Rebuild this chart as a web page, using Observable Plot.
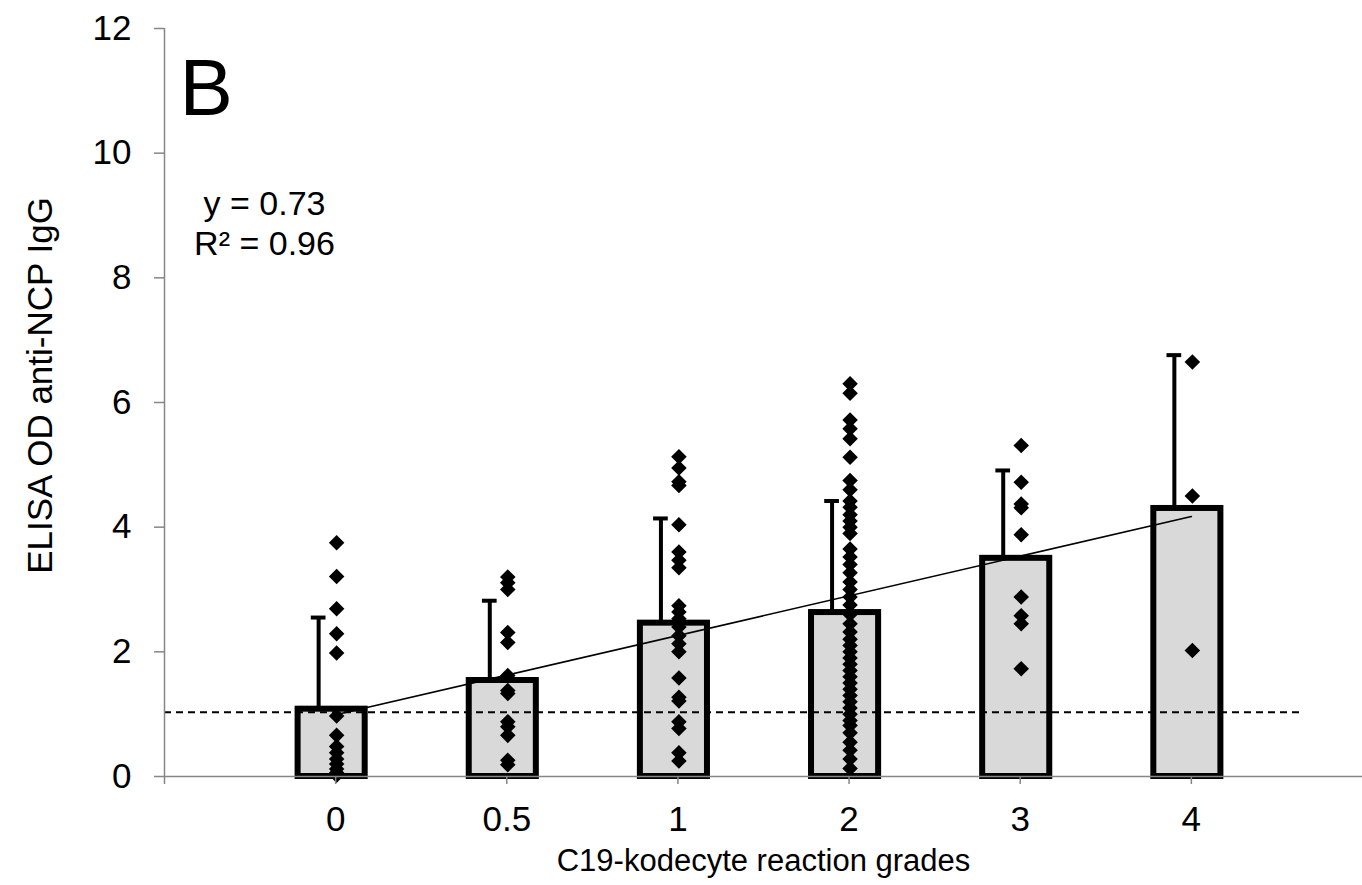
<!DOCTYPE html>
<html><head><meta charset="utf-8">
<script src="https://cdn.jsdelivr.net/npm/d3@7"></script>
<script src="https://cdn.jsdelivr.net/npm/@observablehq/plot@0.6"></script>
<style>body{margin:0;background:#fff;} svg{font-family:"Liberation Sans",Arial,sans-serif;}</style>
</head><body><div id="chart"></div>
<script>
// Categories (C19-kodecyte reaction grades)
const grades = ["0", "0.5", "1", "2", "3", "4"];
// Bar heights (mean ELISA OD) and upper error bar ends
const barMeans = [1.08, 1.54, 2.46, 2.63, 3.5, 4.3];
const errUpper = [2.55, 2.82, 4.14, 4.42, 4.91, 6.76];
// Individual samples per grade
const dots0 = [3.75, 3.21, 2.69, 2.29, 1.98, 0.97, 0.66, 0.48, 0.38, 0.28, 0.2, 0.12, 0.06, 0.02];
const dots05 = [3.2, 3.11, 3.0, 2.31, 2.15, 1.62, 1.38, 1.33, 0.88, 0.8, 0.66, 0.26, 0.19];
const dots1 = [5.13, 4.95, 4.73, 4.67, 4.04, 3.6, 3.47, 3.35, 2.74, 2.64, 2.53, 2.4, 2.26, 2.13, 2.0, 1.58, 1.27, 1.21, 0.88, 0.77, 0.38, 0.25];
const dots2 = [6.3, 6.15, 5.72, 5.58, 5.42, 5.12, 4.75, 4.6, 4.42, 4.32, 4.2, 4.1, 4.0, 3.9, 3.65, 3.52, 3.4, 3.27, 3.12, 3.0, 2.88, 2.75, 2.6, 2.45, 2.32, 2.2, 2.1, 2.0, 1.9, 1.8, 1.7, 1.6, 1.5, 1.4, 1.3, 1.2, 1.1, 1.0, 0.9, 0.82, 0.7, 0.55, 0.42, 0.28, 0.13];
const dots3 = [5.31, 4.72, 4.37, 4.31, 3.88, 2.88, 2.58, 2.45, 1.73];
const dots4 = [6.65, 4.5, 2.02];
// Linear trend line end points
const trendGrades = ["0", "4"];
const trendValues = [0.99, 4.17];
// Cut-off (dashed) line
const cutoffValue = 1.03;
const cutoffExtent = [0, 6.66];
// Axis ticks
const yTicks = [0, 2, 4, 6, 8, 10, 12];
const xTicks = [0, 1, 2, 3, 4, 5, 6];
// Texts
const panelLabel = "B";
const equationText = "y = 0.73\nR² = 0.96";
const xTitle = "C19-kodecyte reaction grades";
const yTitle = "ELISA OD anti-NCP IgG";

const dotSets = [dots0, dots05, dots1, dots2, dots3, dots4];
const bars = grades.map((g, i) => ({pos: i + 1, grade: g, mean: barMeans[i], upper: errUpper[i]}));
const points = dotSets.flatMap((vals, i) => vals.map(v => ({pos: i + 1, value: v})));
const trend = trendGrades.map((g, i) => ({pos: grades.indexOf(g) + 1, value: trendValues[i]}));

const halfBar = 0.196, halfCap = 0.043;
const axisGray = "#868686";

const chart = Plot.plot({
  width: 1362, height: 885,
  marginLeft: 164, marginRight: 0, marginTop: 28, marginBottom: 109,
  style: {fontFamily: "'Liberation Sans', Arial, sans-serif", fontSize: "30px", background: "white", color: "black", overflow: "visible"},
  x: {domain: [0, 7], axis: null},
  y: {domain: [0, 12], axis: null},
  marks: [
    Plot.rectY(bars, {x1: d => d.pos - halfBar, x2: d => d.pos + halfBar, y1: d => 0, y2: "mean", fill: "#d9d9d9", stroke: "black", strokeWidth: 6, dx: -4}),
    Plot.ruleX(bars, {x: "pos", y1: "mean", y2: "upper", stroke: "black", strokeWidth: 4, dx: -17}),
    Plot.ruleY(bars, {y: "upper", x1: d => d.pos - halfCap, x2: d => d.pos + halfCap, stroke: "black", strokeWidth: 4, dx: -17}),
    Plot.ruleY([cutoffValue], {x1: cutoffExtent[0], x2: cutoffExtent[1], stroke: "black", strokeWidth: 2, strokeDasharray: "7,5"}),
    Plot.line(trend, {x: "pos", y: "value", stroke: "black", strokeWidth: 1.6}),
    Plot.dot(points, {x: "pos", y: "value", symbol: "diamond2", r: 7, fill: "black", stroke: null, dx: 1}),
    Plot.ruleX([0], {stroke: axisGray, strokeWidth: 1.5}),
    Plot.ruleY([0], {stroke: axisGray, strokeWidth: 1.5}),
    Plot.axisY({ticks: yTicks, tickSize: 10, tickPadding: 23, stroke: axisGray, strokeWidth: 1.5, fill: "black", fontSize: 35, label: null, tickFormat: d => String(d)}),
    Plot.axisX({ticks: xTicks, tickSize: 8, tickPadding: 22, stroke: axisGray, strokeWidth: 1.5, fill: "black", fontSize: 35, label: null, tickFormat: d => (d >= 1 && d <= grades.length ? grades[d - 1] : "")}),
    Plot.text([panelLabel], {frameAnchor: "top-left", dx: 15, dy: 30, lineAnchor: "top", textAnchor: "start", fontSize: 80, fill: "black"}),
    Plot.text([equationText], {frameAnchor: "top-left", dx: 100, dy: 158, lineAnchor: "top", textAnchor: "middle", fontSize: 34, lineHeight: 1.18, fill: "black"}),
    Plot.text([xTitle], {frameAnchor: "bottom", dy: 94, textAnchor: "middle", fontSize: 31, fill: "black"}),
    Plot.text([yTitle], {frameAnchor: "left", rotate: -90, dx: -124, dy: -17, textAnchor: "middle", fontSize: 35, fill: "black"})
  ]
});
document.getElementById("chart").appendChild(chart);
</script>
</body></html>
